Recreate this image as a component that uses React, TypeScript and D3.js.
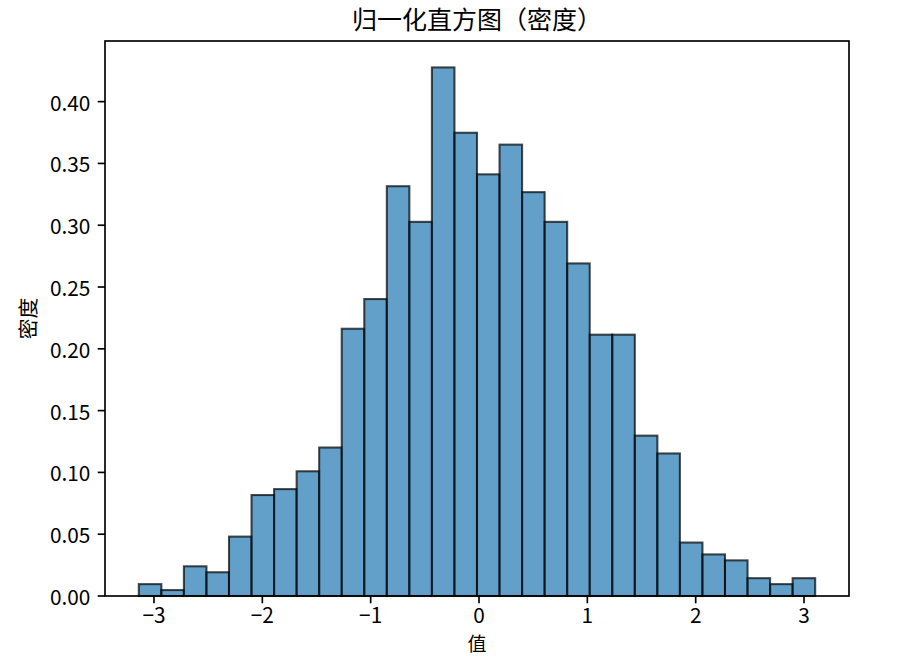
import React from 'react';
import * as d3 from 'd3';

// histogram of 1000 samples, 30 equal bins
const binCounts = [
  2, 1, 5, 4, 10, 17, 18, 21, 25, 45,
  50, 69, 63, 89, 78, 71, 76, 68, 63, 56,
  44, 44, 27, 24, 9, 7, 6, 3, 2, 3
];
const sampleSize = 1000;
const dataMin = -3.14;
const dataMax = 3.103;

const xTicks = [-3, -2, -1, 0, 1, 2, 3];
const yTicks = [0, 0.05, 0.1, 0.15, 0.2, 0.25, 0.3, 0.35, 0.4];

const title = '归一化直方图（密度）';
const xLabel = '值';
const yLabel = '密度';

const W = 908;
const H = 656;
const margin = { top: 41, right: 59, bottom: 60, left: 105 };
const FONT = "'Noto Sans CJK SC', 'Noto Sans', sans-serif";

const App: React.FC = () => {
  const innerW = W - margin.left - margin.right;
  const innerH = H - margin.top - margin.bottom;

  const binW = (dataMax - dataMin) / binCounts.length;
  const bins = binCounts.map((c, i) => ({
    x0: dataMin + i * binW,
    x1: dataMin + (i + 1) * binW,
    density: c / (sampleSize * binW)
  }));

  const span = dataMax - dataMin;
  const x = d3.scaleLinear()
    .domain([dataMin - span * 0.05, dataMax + span * 0.05])
    .range([margin.left, margin.left + innerW]);

  const maxD = d3.max(bins, d => d.density) as number;
  const y = d3.scaleLinear()
    .domain([0, maxD * 1.05])
    .range([margin.top + innerH, margin.top]);

  const fmtY = d3.format('.2f');
  const fmtX = (v: number) => (v < 0 ? '\u2212' + Math.abs(v) : String(v));
  const tickLen = 7.3;
  const bottom = margin.top + innerH;

  return (
    <svg width={W} height={H} style={{ position: 'absolute', left: 0, top: 0, background: '#fff' }}
      fontFamily={FONT}>
      {/* bars */}
      <g>
        {bins.map((b, i) => (
          <rect key={i}
            x={x(b.x0)} y={y(b.density)}
            width={x(b.x1) - x(b.x0)} height={y(0) - y(b.density)}
            fill="#1f77b4" fillOpacity={0.7}
            stroke="#000" strokeOpacity={0.7} strokeWidth={2.08} />
        ))}
      </g>

      {/* spines */}
      <rect x={margin.left} y={margin.top} width={innerW} height={innerH}
        fill="none" stroke="#000" strokeWidth={1.67} />

      {/* x axis */}
      {xTicks.map(t => (
        <g key={t}>
          <line x1={x(t)} x2={x(t)} y1={bottom} y2={bottom + tickLen} stroke="#000" strokeWidth={1.67} />
          <text x={x(t)} y={622.5} textAnchor="middle" fontSize={20.8} fill="#000">{fmtX(t)}</text>
        </g>
      ))}

      {/* y axis */}
      {yTicks.map(t => (
        <g key={t}>
          <line x1={margin.left - tickLen} x2={margin.left} y1={y(t)} y2={y(t)} stroke="#000" strokeWidth={1.67} />
          <text x={margin.left - tickLen * 2} y={y(t)} textAnchor="end" dominantBaseline="central"
            fontSize={20.8} fill="#000">{fmtY(t)}</text>
        </g>
      ))}

      {/* labels */}
      <text x={margin.left + innerW / 2} y={29} textAnchor="middle" fontSize={25} fill="#000">{title}</text>
      <text x={margin.left + innerW / 2} y={650.5} textAnchor="middle" fontSize={19} fill="#000">{xLabel}</text>
      <text transform={`translate(27,${margin.top + innerH / 2}) rotate(-90)`} textAnchor="middle"
        dominantBaseline="central" fontSize={20.8} fill="#000">{yLabel}</text>
    </svg>
  );
};

export default App;
